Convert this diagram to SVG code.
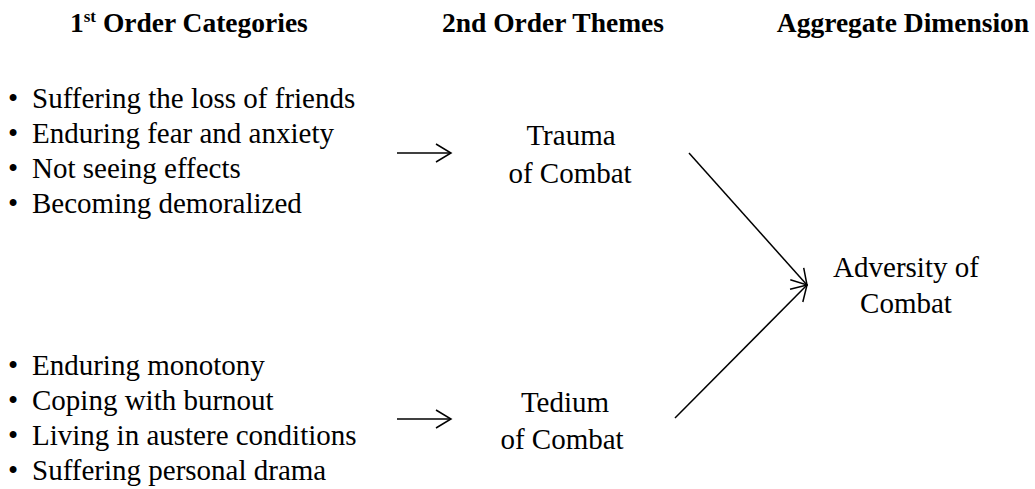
<svg xmlns="http://www.w3.org/2000/svg" width="1035" height="489" viewBox="0 0 1035 489">
  <style>
    text { font-family: 'Times New Roman', Times, 'Liberation Serif', Tinos, serif; fill: #000; }
    .hdr { font-weight: bold; font-size: 27.5px; }
    .txt { font-size: 29px; }
    .mid { text-anchor: middle; }
    .link { fill: none; stroke: #000; stroke-width: 1.5; marker-end: url(#head); }
  </style>
  <defs>
    <!-- open V arrowhead -->
    <marker id="head" markerUnits="userSpaceOnUse" markerWidth="20" markerHeight="24" refX="16" refY="10" orient="auto" viewBox="0 0 20 24" overflow="visible">
      <path d="M1,1 L16,10 L1,19" fill="none" stroke="#000" stroke-width="1.5"/>
    </marker>
  </defs>

  <rect width="1035" height="489" fill="#fff"/>

  <!-- column headings -->
  <g id="headings">
    <text class="hdr" x="70" y="32">1<tspan font-size="17" dy="-10">st</tspan><tspan dy="10"> Order Categories</tspan></text>
    <text class="hdr mid" x="553" y="32">2nd Order Themes</text>
    <text class="hdr mid" x="903" y="32">Aggregate Dimension</text>
  </g>

  <!-- first order categories: trauma -->
  <g id="categories-trauma">
    <text class="txt" y="108"><tspan x="8">•</tspan><tspan x="32">Suffering the loss of friends</tspan></text>
    <text class="txt" y="143"><tspan x="8">•</tspan><tspan x="32">Enduring fear and anxiety</tspan></text>
    <text class="txt" y="178"><tspan x="8">•</tspan><tspan x="32">Not seeing effects</tspan></text>
    <text class="txt" y="213"><tspan x="8">•</tspan><tspan x="32">Becoming demoralized</tspan></text>
  </g>

  <!-- first order categories: tedium -->
  <g id="categories-tedium">
    <text class="txt" y="375"><tspan x="8">•</tspan><tspan x="32">Enduring monotony</tspan></text>
    <text class="txt" y="410"><tspan x="8">•</tspan><tspan x="32">Coping with burnout</tspan></text>
    <text class="txt" y="445"><tspan x="8">•</tspan><tspan x="32">Living in austere conditions</tspan></text>
    <text class="txt" y="480"><tspan x="8">•</tspan><tspan x="32">Suffering personal drama</tspan></text>
  </g>

  <!-- second order themes -->
  <g id="theme-trauma">
    <text class="txt mid" x="571" y="145">Trauma</text>
    <text class="txt mid" x="570" y="183">of Combat</text>
  </g>
  <g id="theme-tedium">
    <text class="txt mid" x="565" y="412">Tedium</text>
    <text class="txt mid" x="562" y="449">of Combat</text>
  </g>

  <!-- aggregate dimension -->
  <g id="dimension-adversity">
    <text class="txt mid" x="906" y="277">Adversity of</text>
    <text class="txt mid" x="906" y="313">Combat</text>
  </g>

  <!-- connectors -->
  <g id="connectors">
    <line class="link" x1="397" y1="153" x2="451" y2="153"/>
    <line class="link" x1="397" y1="419" x2="451" y2="419"/>
    <line class="link" x1="689" y1="153" x2="807" y2="285"/>
    <line class="link" x1="675" y1="418" x2="807" y2="285"/>
  </g>
</svg>
